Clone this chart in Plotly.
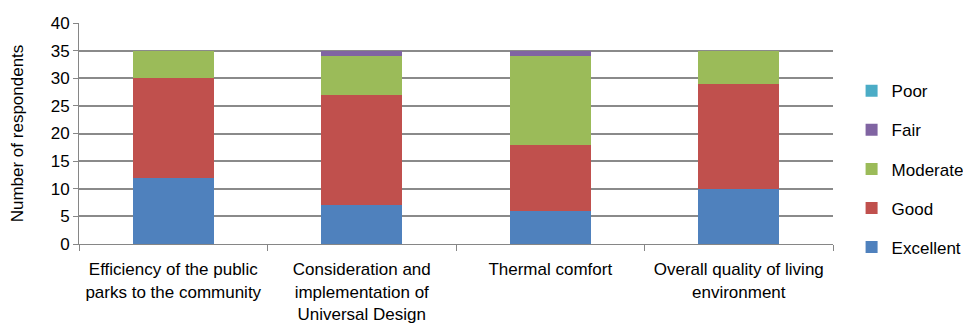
import plotly.graph_objects as go

categories = [
    "Efficiency of the public<br>parks to the community",
    "Consideration and<br>implementation of<br>Universal Design",
    "Thermal comfort",
    "Overall quality of living<br>environment",
]
excellent = [12, 7, 6, 10]
good = [18, 20, 12, 19]
moderate = [5, 7, 16, 6]
fair = [0, 1, 1, 0]
poor = [0, 0, 0, 0]

series = [
    ("Excellent", excellent, "#4F81BD"),
    ("Good", good, "#C0504D"),
    ("Moderate", moderate, "#9BBB59"),
    ("Fair", fair, "#8064A2"),
    ("Poor", poor, "#4BACC6"),
]

FONT = "Liberation Sans, Arial, sans-serif"

fig = go.Figure()
n = len(series)
for i, (name, vals, color) in enumerate(series):
    fig.add_trace(go.Bar(
        name=name, x=categories, y=vals, marker_color=color,
        marker_line_width=0, legendgroup=name, legendrank=n - i,
    ))

fig.update_layout(
    barmode="stack",
    bargap=0.57,
    width=963, height=321,
    margin=dict(l=71, r=138, t=15, b=85),
    paper_bgcolor="white", plot_bgcolor="white",
    font=dict(family=FONT, size=17, color="#000000"),
    legend=dict(
        traceorder="grouped", tracegroupgap=14,
        xref="container", yref="container",
        x=0.876, xanchor="left", y=0.797, yanchor="top",
        font=dict(size=17), itemwidth=30, maxheight=300,
    ),
    showlegend=True,
)
fig.update_xaxes(
    type="category", tickson="boundaries", ticks="outside", ticklen=6,
    tickcolor="#868686", showline=True, linecolor="#868686", linewidth=1,
    showgrid=False, tickangle=0, ticklabelstandoff=10, automargin=False,
)
fig.update_yaxes(
    range=[0, 40], dtick=5, ticks="outside", ticklen=5, tickcolor="#868686",
    showline=True, linecolor="#868686", linewidth=1,
    showgrid=True, gridcolor="#8a8a8a", gridwidth=1.5,
    title=dict(text="Number of respondents", font=dict(size=17), standoff=22),
    zeroline=False, automargin=False,
)
fig.write_html("out.html")
